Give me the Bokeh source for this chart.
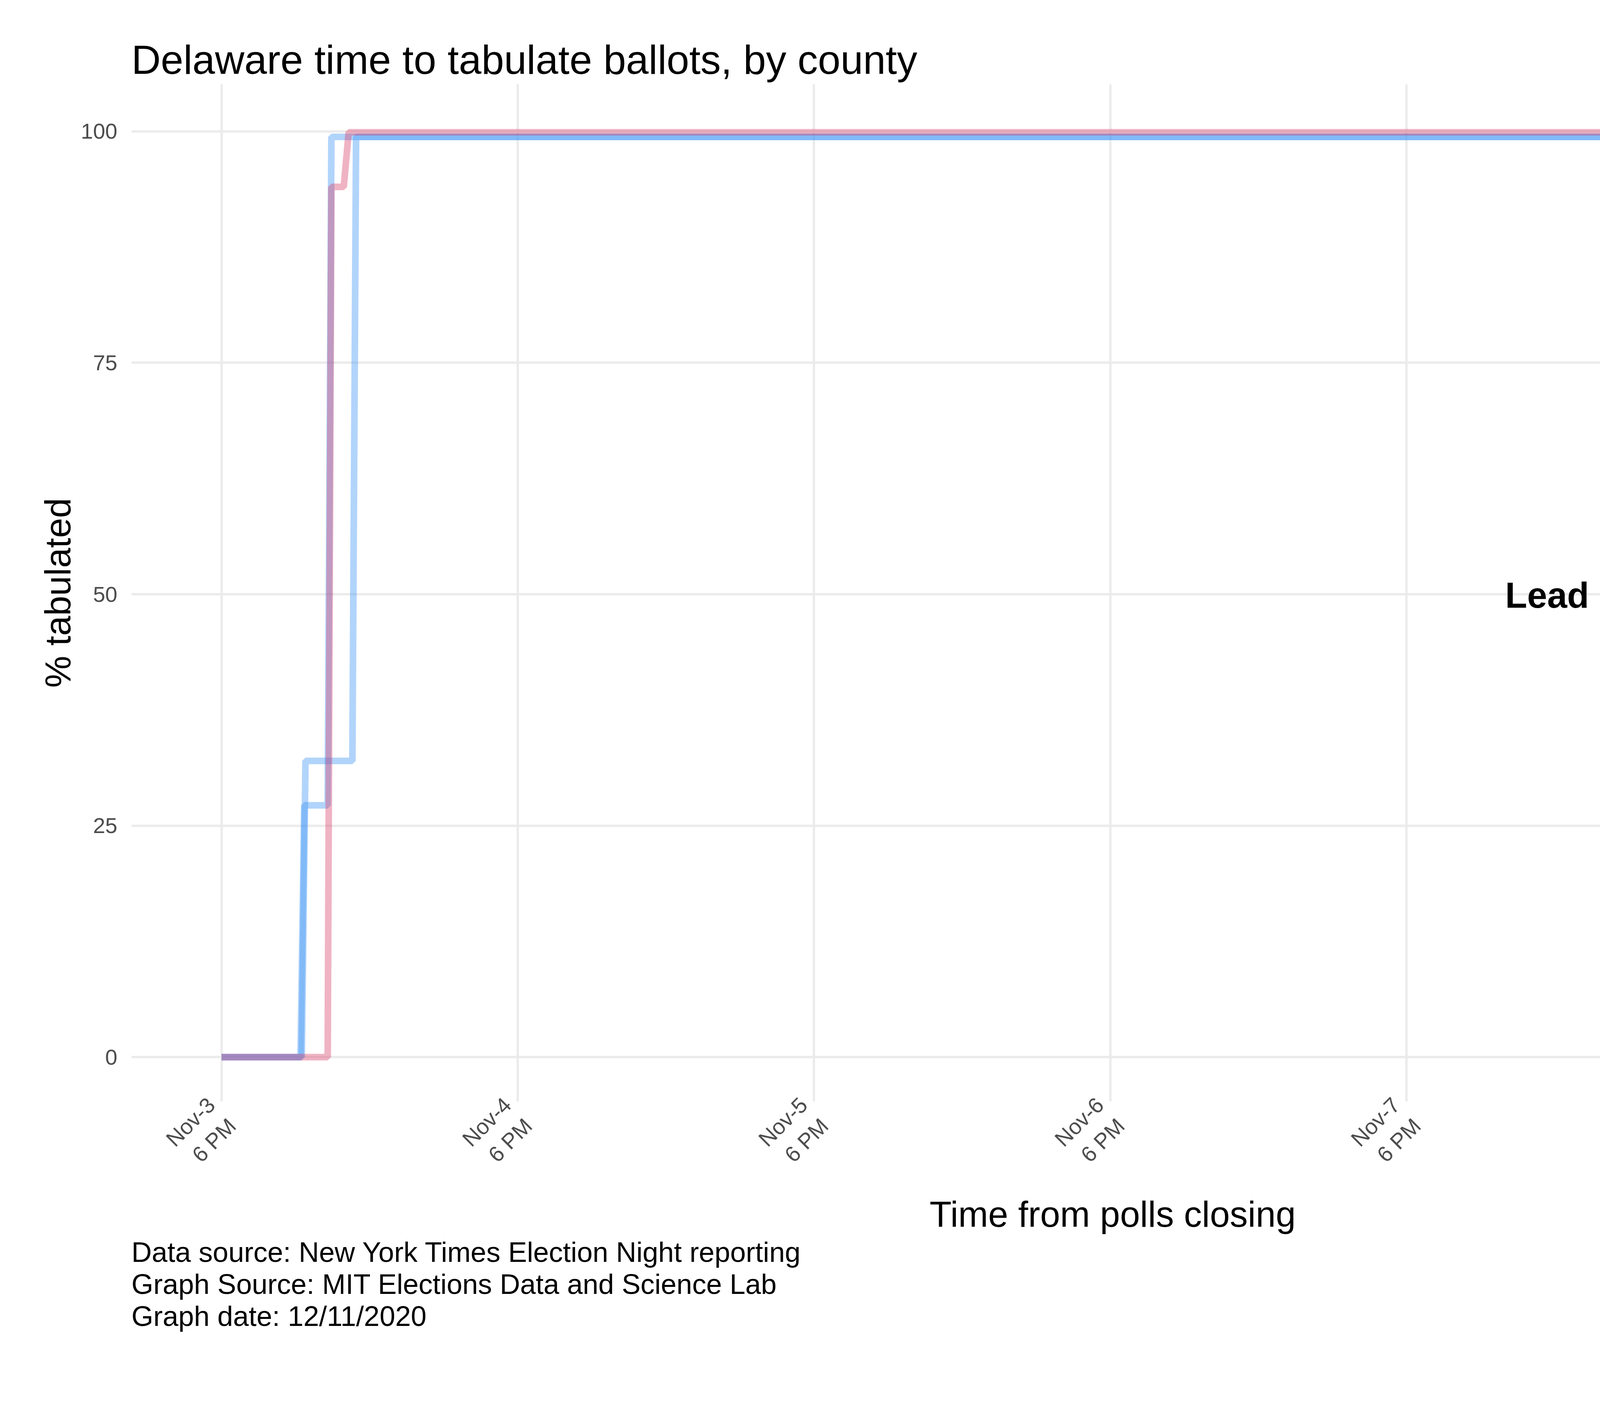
from math import pi

from bokeh.plotting import figure
from bokeh.models import Label, Title, FixedTicker, Range1d
from bokeh.embed import file_html
from bokeh.resources import INLINE

# hours after polls closing (Nov-3 6 PM) and % tabulated
county_a_hours = [0, 6.4, 6.7, 8.6, 8.9, 144]
county_a_pct = [0, 0, 27.2, 27.2, 99.4, 99.4]
county_b_hours = [0, 6.5, 6.8, 10.6, 10.9, 144]
county_b_pct = [0, 0, 32.0, 32.0, 99.4, 99.4]
county_c_hours = [0, 8.6, 8.9, 9.9, 10.3, 144]
county_c_pct = [0, 0, 94.0, 94.0, 99.9, 99.9]

tick_hours = [0, 24, 48, 72, 96, 120, 144]
tick_labels = ["Nov-3\n6 PM", "Nov-4\n6 PM", "Nov-5\n6 PM", "Nov-6\n6 PM",
               "Nov-7\n6 PM", "Nov-8\n6 PM", "Nov-9\n6 PM"]

FONT = "Liberation Sans"
BLUE = "#3d94f5"
RED = "#d6406b"

p = figure(width=5380, height=3580, output_backend="svg",
           toolbar_location=None, min_border_left=336, min_border_right=20,
           min_border_top=215, min_border_bottom=760,
           x_range=Range1d(-7.3, 151.7), y_range=Range1d(-4.8, 105.1))
p.title.text = "Delaware time to tabulate ballots, by county"
p.title.text_font = FONT
p.title.text_font_size = "104px"
p.title.text_font_style = "normal"
p.title.text_color = "black"

for hours, pct, col in [(county_a_hours, county_a_pct, BLUE),
                        (county_b_hours, county_b_pct, BLUE),
                        (county_c_hours, county_c_pct, RED)]:
    p.line(hours, pct, line_color=col, line_alpha=0.4, line_width=17)

p.xaxis.ticker = FixedTicker(ticks=tick_hours)
p.xaxis.major_label_overrides = {h: l for h, l in zip(tick_hours, tick_labels)}
p.xaxis.major_label_orientation = pi / 4
p.yaxis.ticker = FixedTicker(ticks=[0, 25, 50, 75, 100])
for ax in (p.xaxis[0], p.yaxis[0]):
    ax.axis_line_color = None
    ax.major_tick_line_color = None
    ax.minor_tick_line_color = None
    ax.major_label_text_font = FONT
    ax.major_label_text_font_size = "56px"
    ax.major_label_text_color = "#4d4d4d"
    ax.axis_label_text_font = FONT
    ax.axis_label_text_font_size = "92px"
    ax.axis_label_text_font_style = "normal"
    ax.axis_label_text_color = "black"
p.xaxis.axis_label = "Time from polls closing"
p.yaxis.axis_label = "% tabulated"
p.xaxis.major_label_standoff = 20
p.yaxis.major_label_standoff = 30

p.xgrid.grid_line_color = "#ebebeb"
p.ygrid.grid_line_color = "#ebebeb"
p.xgrid.grid_line_width = 6
p.ygrid.grid_line_width = 6
p.outline_line_color = None

p.add_layout(Label(x=104, y=49.9, text="Lead in results", text_font=FONT,
                   text_font_size="92px", text_font_style="bold",
                   text_color="black", text_baseline="middle"))
p.add_layout(Label(x=120, y=38.8, text="Biden", text_font=FONT, text_color=BLUE,
                   text_font_size="78px", text_font_style="bold",
                   text_baseline="middle"))
p.add_layout(Label(x=120, y=27.9, text="Trump", text_font=FONT, text_color="#c8244f",
                   text_font_size="78px", text_font_style="bold",
                   text_baseline="middle"))

for line in ["Data source: New York Times Election Night reporting",
             "Graph Source: MIT Elections Data and Science Lab",
             "Graph date: 12/11/2020"]:
    p.add_layout(Title(text=line, text_font=FONT, text_font_size="72px",
                       text_font_style="normal", text_color="black",
                       standoff=0), "below")

open("out.html", "w").write(file_html(p, INLINE))
